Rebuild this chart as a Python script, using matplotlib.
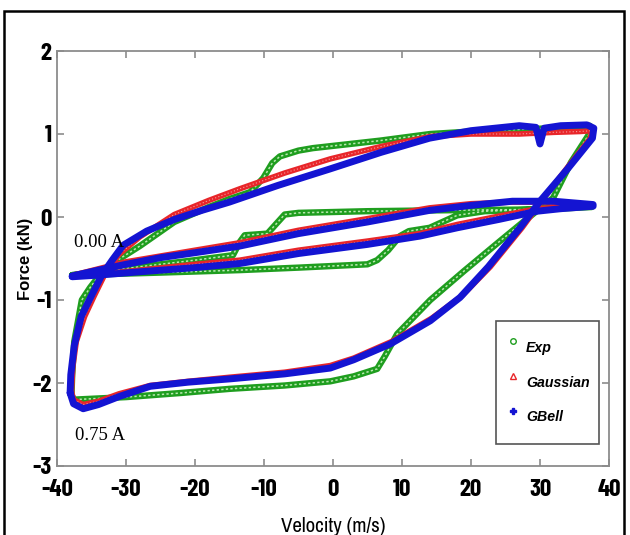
import matplotlib
matplotlib.use('Agg')
import matplotlib.pyplot as plt
from matplotlib.lines import Line2D
from matplotlib.patches import Rectangle

# ---- data (velocity m/s, force kN) ----
# 0.75 A loop, each series traced as one closed path
exp_big_x = [-37.9, -37.8, -37.5, -36.4, -35.2, -33.8, -32.0, -28.0, -23.0, -18.0, -14.9, -12.0,
             -10.1, -8.8, -7.7, -5.0, -2.9, 6.8, 14.1, 22.0, 31.9, 37.2, 37.6, 34.5, 31.9, 28.0,
             24.2, 19.0, 14.1, 9.3, 7.5, 6.4, 3.0, -0.4, -7.0, -14.9, -22.0, -30.0, -35.0, -37.5, -37.9]
exp_big_y = [-2.15, -1.90, -1.50, -1.00, -0.85, -0.70, -0.56, -0.35, -0.06, 0.12, 0.22, 0.30,
             0.47, 0.65, 0.73, 0.80, 0.83, 0.92, 1.00, 1.04, 1.07, 1.10, 1.06, 0.66, 0.23, -0.03,
             -0.29, -0.65, -1.00, -1.41, -1.68, -1.83, -1.92, -1.98, -2.03, -2.07, -2.12, -2.17, -2.19, -2.20, -2.15]

gau_big_x = [-37.9, -37.7, -37.2, -36.0, -34.6, -33.0, -31.0, -28.0, -23.0, -18.0, -13.5, -7.0,
             -0.4, 7.0, 14.1, 20.0, 27.0, 32.0, 35.8, 37.5, 37.3, 34.0, 30.3, 27.4, 22.8, 18.7,
             14.3, 8.5, 3.0, -0.4, -7.0, -14.9, -21.0, -26.5, -31.0, -34.0, -36.2, -37.6, -37.9]
gau_big_y = [-2.10, -1.80, -1.50, -1.20, -0.95, -0.68, -0.45, -0.24, 0.03, 0.20, 0.34, 0.53,
             0.70, 0.85, 0.97, 1.00, 1.00, 1.02, 1.03, 1.04, 0.95, 0.60, 0.20, -0.13, -0.60, -0.95,
             -1.22, -1.50, -1.70, -1.79, -1.87, -1.93, -1.98, -2.03, -2.13, -2.22, -2.26, -2.20, -2.10]

gbe_big_x = [-38.1, -38.0, -37.5, -36.5, -35.2, -33.5, -32.0, -30.4, -27.0, -23.0, -19.0, -15.0,
             -8.0, -0.4, 7.0, 14.0, 20.0, 27.0, 29.4, 30.0, 30.6, 33.0, 36.8, 37.8, 37.6, 34.0,
             30.0, 27.1, 22.5, 18.4, 14.1, 8.3, 3.0, -0.4, -7.0, -14.9, -21.0, -26.5, -30.9,
             -34.0, -36.2, -37.6, -38.1]
gbe_big_y = [-2.12, -1.90, -1.55, -1.20, -0.98, -0.70, -0.52, -0.34, -0.17, -0.03, 0.08, 0.18,
             0.38, 0.58, 0.78, 0.95, 1.04, 1.10, 1.08, 0.88, 1.07, 1.10, 1.11, 1.07, 0.95, 0.58,
             0.19, -0.13, -0.60, -0.97, -1.25, -1.53, -1.72, -1.82, -1.89, -1.95, -1.99, -2.04, -2.16,
             -2.26, -2.31, -2.25, -2.12]

# 0.00 A loop
exp_small_x = [-37.8, -30.0, -20.0, -14.5, -13.5, -12.8, -9.5, -8.2, -7.0, -5.0, 5.0, 15.0, 28.0,
               34.0, 37.5, 37.5, 30.0, 22.0, 18.0, 14.0, 11.0, 9.7, 8.0, 6.4, 5.0, -5.0, -13.5,
               -25.0, -37.8]
exp_small_y = [-0.70, -0.62, -0.52, -0.46, -0.30, -0.22, -0.20, -0.08, 0.03, 0.05, 0.07, 0.08, 0.09,
               0.12, 0.14, 0.12, 0.09, 0.07, 0.02, -0.13, -0.17, -0.23, -0.40, -0.52, -0.57, -0.61, -0.64,
               -0.67, -0.70]

gau_small_x = [-37.6, -30.0, -20.0, -13.5, -5.0, 5.0, 14.0, 20.0, 26.0, 32.0, 37.5, 37.5, 33.0,
               29.6, 24.0, 18.0, 12.6, 5.0, -5.0, -13.5, -20.0, -28.0, -34.0, -37.6]
gau_small_y = [-0.70, -0.54, -0.40, -0.31, -0.16, -0.02, 0.11, 0.16, 0.18, 0.18, 0.15, 0.13, 0.12,
               0.10, 0.01, -0.09, -0.20, -0.29, -0.40, -0.52, -0.57, -0.64, -0.69, -0.71]

gbe_small_x = [-37.8, -34.0, -30.0, -25.0, -20.0, -13.5, -5.0, 5.0, 14.0, 20.0, 26.0, 32.0, 37.7,
               37.7, 33.0, 29.6, 24.0, 18.0, 12.6, 5.0, -5.0, -13.5, -20.0, -28.0, -34.0, -37.8]
gbe_small_y = [-0.71, -0.64, -0.57, -0.49, -0.43, -0.35, -0.20, -0.06, 0.08, 0.14, 0.19, 0.19, 0.15,
               0.13, 0.10, 0.07, -0.03, -0.13, -0.23, -0.33, -0.44, -0.56, -0.61, -0.66, -0.70, -0.72]

series_names = ['Exp', 'Gaussian', 'GBell']
x_ticks = [-40, -30, -20, -10, 0, 10, 20, 30, 40]
y_ticks = [-3, -2, -1, 0, 1, 2]

green = '#1f9e1f'
red = '#e8262a'
blue = '#1414d2'

fig = plt.figure(figsize=(6.3, 5.35), dpi=100)
ax = fig.add_axes([57 / 630, 1 - 466 / 535, 552 / 630, 415 / 535])

kw = dict(solid_capstyle='round', solid_joinstyle='round')

# Exp: green band of hollow circles
for xs, ys in [(exp_big_x, exp_big_y), (exp_small_x, exp_small_y)]:
    ax.plot(xs, ys, color=green, lw=4.6, **kw)
    ax.plot(xs, ys, color='#b9e8b0', lw=1.1, ls=(0, (1.5, 1.5)), **kw)

# Gaussian: red triangles
for xs, ys in [(gau_big_x, gau_big_y), (gau_small_x, gau_small_y)]:
    ax.plot(xs, ys, color=red, lw=4.0, **kw)
    ax.plot(xs, ys, color='#f4a0a0', lw=0.8, ls=(0, (1, 2)), **kw)

# GBell: blue stars
for xs, ys in [(gbe_big_x, gbe_big_y), (gbe_small_x, gbe_small_y)]:
    ax.plot(xs, ys, color=blue, lw=5.0, **kw)

ax.set_xlim(-40, 40)
ax.set_ylim(-3, 2)
ax.set_xticks(x_ticks)
ax.set_yticks(y_ticks)
ax.set_xticklabels([str(t) for t in x_ticks])
ax.set_yticklabels([str(t) for t in y_ticks])

for s in ax.spines.values():
    s.set_color('#8c8c8c')
    s.set_linewidth(1.3)
ax.tick_params(direction='in', length=5, width=1.2, color='#8c8c8c',
               top=True, right=True, labelsize=18)
ax.tick_params(axis='x', pad=9)
ax.tick_params(axis='y', pad=4)
for lab in ax.get_xticklabels() + ax.get_yticklabels():
    lab.set_family('Barlow Condensed')
    lab.set_weight('bold')

ax.set_xlabel('Velocity (m/s)', family='Archivo Narrow', fontsize=15, va='top')
ax.xaxis.set_label_coords(0.5, -0.124)
ax.set_ylabel('Force (kN)', family='Liberation Sans', fontweight='bold', fontsize=12)
ax.yaxis.set_label_coords(-0.044, 0.5)

ax.text(-37.6, -0.31, '0.00 A', family='Liberation Serif', fontsize=13.5, va='center', ha='left')
ax.text(-37.4, -2.63, '0.75 A', family='Liberation Serif', fontsize=13.5, va='center', ha='left')

handles = [
    Line2D([], [], ls='none', marker='o', mfc='none', mec=green, ms=4, mew=1),
    Line2D([], [], ls='none', marker='^', mfc='none', mec=red, ms=4, mew=1),
    Line2D([], [], ls='none', marker='P', color=blue, ms=4),
]
leg = ax.legend(handles, series_names, loc='lower right', bbox_to_anchor=(0.982, 0.053),
                borderaxespad=0, fancybox=False, framealpha=1, edgecolor='#555555',
                handlelength=1.2, handleheight=3.4, handletextpad=0.3, labelspacing=0.0,
                borderpad=0.65,
                prop={'family': 'Liberation Sans', 'weight': 'bold', 'style': 'italic', 'size': 10.2})
leg.get_frame().set_linewidth(1.2)

fig.patches.append(Rectangle((4 / 630, -0.02), 620 / 630, 1.02 - 11 / 535, transform=fig.transFigure,
                             fill=False, ec='black', lw=1.8))

fig.savefig('out.png', dpi=100)
